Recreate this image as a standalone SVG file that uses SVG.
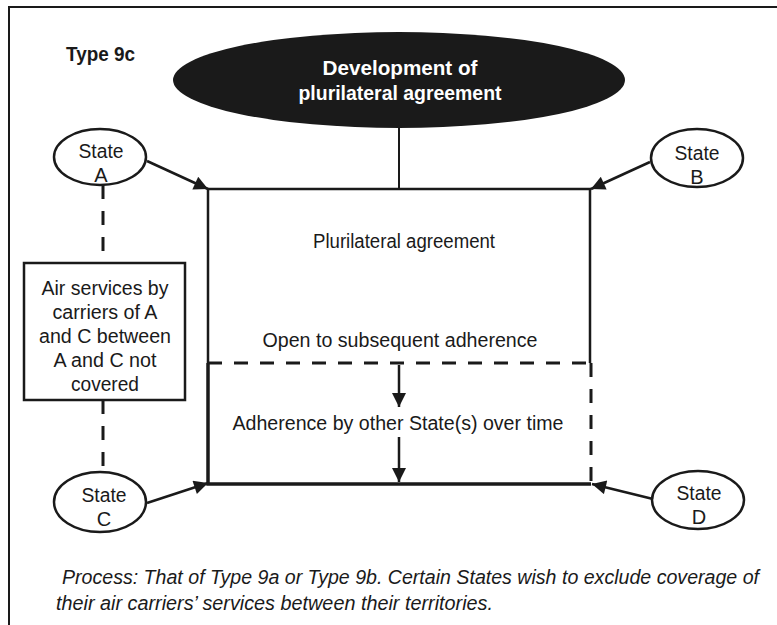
<svg xmlns="http://www.w3.org/2000/svg" width="777" height="625" viewBox="0 0 777 625">
<style>
text{font-family:"Liberation Sans",Arial,sans-serif;fill:#1a1a1a}
.st{font-size:20px;text-anchor:middle}
.bx{font-size:20px;text-anchor:middle}
.ln{stroke:#1a1a1a;fill:none}
.dash{stroke:#1a1a1a;stroke-width:3;stroke-dasharray:14 12;fill:none}
.el{fill:#fff;stroke:#1a1a1a;stroke-width:2.5}
</style>
<defs>
<marker id="ah" viewBox="0 0 10 10" refX="10" refY="5" markerWidth="16" markerHeight="14" markerUnits="userSpaceOnUse" orient="auto">
<path d="M0,0 L10,5 L0,10 z" fill="#1a1a1a"/>
</marker>
</defs>
<rect width="777" height="625" fill="#fff"/>
<g id="frame">
<path class="ln" stroke-width="2" d="M9,625 V7 H777"/>
</g>
<text id="title" x="66" y="61" font-size="19.5" font-weight="bold" textLength="69" lengthAdjust="spacingAndGlyphs">Type 9c</text>
<g id="development">
<ellipse cx="399" cy="80" rx="226" ry="48" fill="#1a1a1a"/>
<text x="400" y="75" font-size="20" font-weight="bold" text-anchor="middle" style="fill:#fff" textLength="155" lengthAdjust="spacingAndGlyphs">Development of</text>
<text x="400" y="100" font-size="20" font-weight="bold" text-anchor="middle" style="fill:#fff" textLength="203" lengthAdjust="spacingAndGlyphs">plurilateral agreement</text>
</g>
<g id="agreement">
<path class="ln" stroke-width="2.5" d="M208,363 V189 H590 V363"/>
<path class="dash" d="M208,363 H590"/>
<text class="bx" x="404" y="248" textLength="182" lengthAdjust="spacingAndGlyphs">Plurilateral agreement</text>
<text class="bx" x="400" y="347" textLength="275" lengthAdjust="spacingAndGlyphs">Open to subsequent adherence</text>
</g>
<g id="adherence">
<path class="ln" stroke-width="3.5" d="M208,363 V484 H591"/>
<path class="dash" d="M591,363 V484"/>
<text class="bx" x="398" y="430" textLength="331" lengthAdjust="spacingAndGlyphs">Adherence by other State(s) over time</text>
</g>
<g id="stateA">
<ellipse class="el" cx="100" cy="157" rx="46" ry="28"/>
<text class="st" x="101" y="158" textLength="45" lengthAdjust="spacingAndGlyphs">State</text>
<text class="st" x="101" y="182">A</text>
</g>
<g id="stateB">
<ellipse class="el" cx="697" cy="158" rx="46" ry="29"/>
<text class="st" x="697" y="160" textLength="45" lengthAdjust="spacingAndGlyphs">State</text>
<text class="st" x="697" y="184">B</text>
</g>
<g id="stateC">
<ellipse class="el" cx="100" cy="502" rx="46" ry="30"/>
<text class="st" x="104" y="502" textLength="45" lengthAdjust="spacingAndGlyphs">State</text>
<text class="st" x="104" y="526">C</text>
</g>
<g id="stateD">
<ellipse class="el" cx="698" cy="500" rx="46" ry="29"/>
<text class="st" x="699" y="500" textLength="45" lengthAdjust="spacingAndGlyphs">State</text>
<text class="st" x="699" y="524">D</text>
</g>
<g id="note">
<rect x="24" y="263" width="161" height="137" fill="#fff" stroke="#1a1a1a" stroke-width="2.5"/>
<text class="bx" x="105" y="295" textLength="127" lengthAdjust="spacingAndGlyphs">Air services by</text>
<text class="bx" x="105" y="319" textLength="105" lengthAdjust="spacingAndGlyphs">carriers of A</text>
<text class="bx" x="105" y="343" textLength="132" lengthAdjust="spacingAndGlyphs">and C between</text>
<text class="bx" x="105" y="367" textLength="103" lengthAdjust="spacingAndGlyphs">A and C not</text>
<text class="bx" x="105" y="391" textLength="68" lengthAdjust="spacingAndGlyphs">covered</text>
</g>
<g id="connectors">
<path class="ln" stroke-width="2" d="M399,128 V189"/>
<path class="dash" d="M103,185 V263"/>
<path class="dash" d="M103,400 V472"/>
<path class="ln" stroke-width="2.5" d="M147,161 L208,189" marker-end="url(#ah)"/>
<path class="ln" stroke-width="2.5" d="M650,162 L591,189" marker-end="url(#ah)"/>
<path class="ln" stroke-width="2.5" d="M147,503 L208,483" marker-end="url(#ah)"/>
<path class="ln" stroke-width="2.5" d="M653,499 L592,484" marker-end="url(#ah)"/>
<path class="ln" stroke-width="2.5" d="M399,365 V407" marker-end="url(#ah)"/>
<path class="ln" stroke-width="2.5" d="M399,437 V482" marker-end="url(#ah)"/>
</g>
<g id="caption" font-size="20" font-style="italic">
<text x="62" y="584" textLength="697" lengthAdjust="spacingAndGlyphs">Process: That of Type 9a or Type 9b. Certain States wish to exclude coverage of</text>
<text x="56" y="610" textLength="437" lengthAdjust="spacingAndGlyphs">their air carriers’ services between their territories.</text>
</g>
</svg>
